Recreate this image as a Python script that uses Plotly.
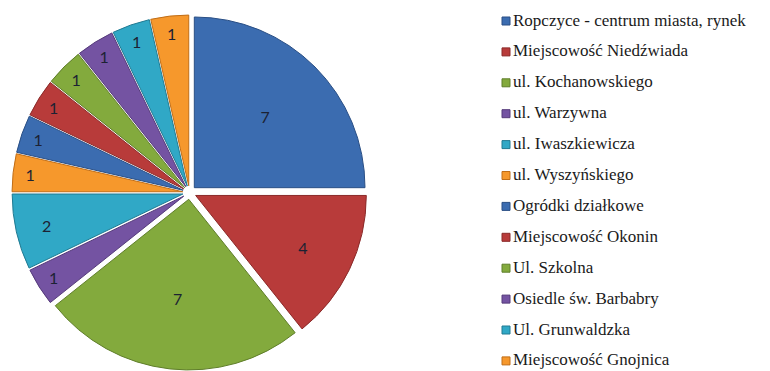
import plotly.graph_objects as go

# Locations and number of reports for each
labels = [
    "Ropczyce - centrum miasta, rynek",
    "Miejscowość Niedźwiada",
    "ul. Kochanowskiego",
    "ul. Warzywna",
    "ul. Iwaszkiewicza",
    "ul. Wyszyńskiego",
    "Ogródki działkowe",
    "Miejscowość Okonin",
    "Ul. Szkolna",
    "Osiedle św. Barbabry",
    "Ul. Grunwaldzka",
    "Miejscowość Gnojnica",
]
values = [7, 4, 7, 1, 2, 1, 1, 1, 1, 1, 1, 1]

palette = ["#3B6CB0", "#B83B3A", "#83AA3D", "#7453A2", "#30A8C6", "#F6982C"]
edge = ["#2A4F85", "#8A2A29", "#5F7E2A", "#553A7A", "#207A92", "#C06E18"]
colors = [palette[i % 6] for i in range(len(labels))]
edges = [edge[i % 6] for i in range(len(labels))]

W, H = 770, 371

fig = go.Figure(
    go.Pie(
        labels=labels,
        values=values,
        sort=False,
        direction="clockwise",
        rotation=0,
        pull=[0.04] * len(values),
        marker=dict(colors=colors, line=dict(color=edges, width=1)),
        textinfo="value",
        textposition="inside",
        insidetextorientation="horizontal",
        textfont=dict(family="Lato", size=16, color="#1C2233"),
        domain=dict(x=[11 / W, 368 / W], y=[1 / H, 356 / H]),
        showlegend=False,
        hoverinfo="label+value",
    )
)

# Legend: one swatch and caption per location
row0, step = 20, 30.9
shapes, annotations = [], []
for i, (lab, col, ed) in enumerate(zip(labels, colors, edges)):
    yc = row0 + i * step
    shapes.append(dict(
        type="rect", xref="paper", yref="paper",
        x0=502 / W, x1=510 / W,
        y0=1 - (yc + 5) / H, y1=1 - (yc - 3) / H,
        fillcolor=col, line=dict(color=ed, width=1),
    ))
    annotations.append(dict(
        xref="paper", yref="paper",
        x=511 / W, y=1 - yc / H,
        xanchor="left", yanchor="middle",
        text=lab, showarrow=False,
        font=dict(family="Liberation Serif", size=17, color="#1a1a1a"),
    ))

fig.update_layout(
    width=W, height=H,
    margin=dict(l=0, r=0, t=0, b=0),
    paper_bgcolor="white",
    plot_bgcolor="white",
    shapes=shapes,
    annotations=annotations,
)

fig.write_html("out.html")
